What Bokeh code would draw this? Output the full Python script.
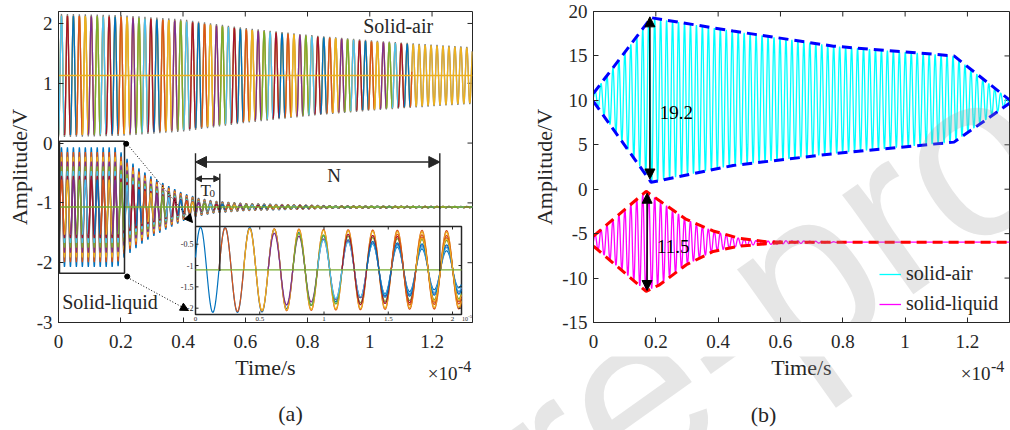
import numpy as np
from bokeh.plotting import figure
from bokeh.models import (Range1d, FixedTicker, Label, Arrow, NormalHead,
                          ColumnDataSource, Legend, LegendItem)
from bokeh.layouts import row, column
from bokeh.embed import file_html
from bokeh.resources import INLINE

FONT = "Liberation Serif"
INK = "#262626"
MAT = ["#0072BD", "#D95319", "#EDB120", "#7E2F8E", "#77AC30", "#4DBEEE", "#A2142F"]

# ------------------------------------------------------------------ data
# time axis in units of 1e-4 s
period = 0.01915            # carrier period (1.915e-6 s)

a_xmax, a_ymin, a_ymax = 1.33, -3.0, 2.2
a_xticks = [0, 0.2, 0.4, 0.6, 0.8, 1.0, 1.2]
a_xlabels = ["0", "0.2", "0.4", "0.6", "0.8", "1", "1.2"]
a_yticks = [-3, -2, -1, 0, 1, 2]
a_ylabels = ["-3", "-2", "-1", "0", "1", "2"]

# (a) solid-air envelope (half amplitude) and centre
a_air_t = [0.0, 0.2, 0.4, 0.6, 0.8, 1.0, 1.2, 1.33]
a_air_amp = [1.0, 0.98, 0.91, 0.77, 0.66, 0.57, 0.50, 0.46]
a_air_mid = 1.13
a_air_colored_until = 1.135

# (a) solid-liquid envelope and centre
a_liq_t = [0.0, 0.19, 0.21, 0.26, 0.30, 0.35, 0.40, 0.45, 0.50, 0.60, 0.75, 0.90, 1.33]
a_liq_amp = [1.0, 1.0, 0.85, 0.64, 0.50, 0.36, 0.23, 0.15, 0.10, 0.06, 0.04, 0.02, 0.01]
a_liq_mid = -1.07
a_liq_scales = [1.0, 0.92, 0.84, 0.76, 0.68, 0.60, 0.52]
a_liq_body_scale = 0.46

# inset (time in 1e-5 s)
inset_xmax, inset_ymin, inset_ymax = 2.07, -2.148, -0.085
inset_period = 0.1915
inset_peak0 = 0.039
inset_mid = -1.1
inset_u = [0.0, 0.5, 1.0, 1.5, 2.07]
inset_amps = [
    [1.0, 1.0, 0.80, 0.55, 0.42],
    [1.0, 0.97, 0.95, 0.93, 0.92],
    [1.0, 0.96, 0.93, 0.90, 0.88],
    [1.0, 0.90, 0.72, 0.60, 0.52],
    [1.0, 0.92, 0.82, 0.74, 0.68],
    [1.0, 0.88, 0.70, 0.58, 0.50],
    [1.0, 0.94, 0.86, 0.79, 0.74],
    [1.0, 0.90, 0.75, 0.64, 0.57],
    [1.0, 0.95, 0.89, 0.84, 0.80],
    [1.0, 0.93, 0.85, 0.78, 0.72],
]
inset_xticks = [0, 0.5, 1, 1.5, 2]
inset_xlabels = ["0", "0.5", "1", "1.5", "2"]
inset_yticks = [-0.5, -1, -1.5, -2]
inset_ylabels = ["-0.5", "-1", "-1.5", "-2"]

# (b)
b_xmax, b_ymin, b_ymax = 1.335, -15.0, 20.0
b_xticks = a_xticks
b_xlabels = a_xlabels
b_yticks = [-15, -10, -5, 0, 5, 10, 15, 20]
b_ylabels = ["-15", "-10", "-5", "0", "5", "10", "15", "20"]

b_air_t = [0.0, 0.185, 0.448, 0.77, 1.157, 1.335]
b_air_up = [10.8, 19.3, 17.8, 16.1, 15.0, 10.05]
b_air_lo = [9.86, 0.78, 2.67, 4.0, 5.3, 9.67]

b_liq_up_t = [0.0, 0.169, 0.212, 0.298, 0.384, 0.47, 0.555, 0.62, 1.335]
b_liq_up = [-5.27, -0.24, -1.3, -3.4, -4.7, -5.54, -5.92, -5.96, -5.96]
b_liq_lo_t = [0.0, 0.169, 0.212, 0.298, 0.384, 0.47, 0.555, 0.62]
b_liq_lo = [-6.4, -11.5, -10.76, -8.5, -7.0, -6.4, -6.14, -5.96]
b_liq_ripple_t = [0.45, 0.55, 0.65, 0.75, 0.80]
b_liq_ripple_amp = [0.30, 0.20, 0.15, 0.08, 0.0]

b_air_arrow = (0.181, 1.15, 19.4)
b_liq_arrow = (0.172, -11.4, -0.45)
b_air_text = (0.213, 8.65, "19.2")
b_liq_text = (0.204, -6.45, "11.5")

# ------------------------------------------------------------------ layout (page pixels)
PAGE_W = 1010
W1 = 498
W2 = PAGE_W - W1
H_TOP = 356                  # page rows 0 .. 356
H_STRIP = 74                 # page rows 356 .. 430
L_X0, L_X1 = 58, 472
R_X0, R_X1 = 593, 1009
FY0, FY1 = 11, 322


def LX(px):
    return (px - L_X0) * a_xmax / (L_X1 - L_X0)


def LY(py):
    return a_ymax - (py - FY0) * (a_ymax - a_ymin) / (FY1 - FY0)


def RX(px):
    return (px - R_X0) * b_xmax / (R_X1 - R_X0)


def RY(py):
    return b_ymax - (py - FY0) * (b_ymax - b_ymin) / (FY1 - FY0)


def style(p, xt, xl, yt, yl, xr, yr, pw):
    p.xgrid.visible = False
    p.ygrid.visible = False
    p.outline_line_color = INK
    p.outline_line_width = 1
    p.background_fill_color = "white"
    p.border_fill_color = "white"
    xa, ya = p.xaxis[0], p.yaxis[0]
    xa.ticker = FixedTicker(ticks=xt)
    xa.major_label_overrides = dict(zip(xt, xl))
    ya.ticker = FixedTicker(ticks=yt)
    ya.major_label_overrides = dict(zip(yt, yl))
    for ax in (xa, ya):
        ax.axis_line_color = INK
        ax.major_tick_line_color = INK
        ax.major_tick_in = 5
        ax.major_tick_out = 0
        ax.minor_tick_line_color = None
        ax.major_label_text_font = FONT
        ax.major_label_text_font_size = "19px"
        ax.major_label_text_color = INK
        ax.axis_label_text_font = FONT
        ax.axis_label_text_font_size = "22px"
        ax.axis_label_text_font_style = "normal"
        ax.axis_label_text_color = INK
    xa.major_label_standoff = 12
    ya.major_label_standoff = 6
    ya.axis_label_standoff = 2
    ya.axis_label = "Amplitude/V"
    # inward ticks on the top and right edges of the box
    dy = 5 * (yr[1] - yr[0]) / (FY1 - FY0)
    dx = 5 * (xr[1] - xr[0]) / pw
    p.segment(x0=xt, y0=[yr[1]] * len(xt), x1=xt, y1=[yr[1] - dy] * len(xt),
              line_color=INK, line_width=1)
    p.segment(x0=[xr[1]] * len(yt), y0=yt, x1=[xr[1] - dx] * len(yt), y1=yt,
              line_color=INK, line_width=1)


def lab(p, x, y, text, size, align="left", baseline="middle", font=FONT, color=INK, **kw):
    p.add_layout(Label(x=x, y=y, text=text, text_font=font, text_font_size=size,
                       text_color=color, text_align=align, text_baseline=baseline, **kw))


def cycles(t_end, mid, kt, ka, scale, offset, n_sub=24):
    xs, ys, cs = [], [], []
    k = 0
    while k * period < t_end - 1e-9:
        tt = np.linspace(k * period, min((k + 1) * period, t_end), n_sub + 1)
        yy = mid - scale * np.interp(tt, kt, ka) * np.cos(2 * np.pi * tt / period)
        xs.append(tt)
        ys.append(yy)
        cs.append(MAT[(offset + k) % 7])
        k += 1
    return ColumnDataSource(dict(xs=xs, ys=ys, c=cs))


# ------------------------------------------------------------------ panel (a)
p1 = figure(width=W1, height=H_TOP, x_range=Range1d(0, a_xmax), y_range=Range1d(a_ymin, a_ymax),
            output_backend="svg", toolbar_location=None,
            min_border_left=L_X0, min_border_right=W1 - L_X1,
            min_border_top=FY0, min_border_bottom=H_TOP - FY1)
style(p1, a_xticks, a_xlabels, a_yticks, a_ylabels, (0, a_xmax), (a_ymin, a_ymax), L_X1 - L_X0)

t = np.arange(0, a_xmax + 1e-9, period / 24)
carrier = np.cos(2 * np.pi * t / period)
A_air = np.interp(t, a_air_t, a_air_amp)
A_liq = np.interp(t, a_liq_t, a_liq_amp)
LW = 1.3

# solid-air group
p1.line(t, a_air_mid - 1.03 * A_air * carrier, line_color="#7F7F7F", line_width=LW)
p1.line(t, a_air_mid - A_air * carrier, line_color=MAT[2], line_width=LW)
p1.multi_line("xs", "ys", line_color="c", line_width=LW,
              source=cycles(a_air_colored_until, a_air_mid, a_air_t, a_air_amp, 1.0, 5))

# solid-liquid group
for k, s in enumerate(a_liq_scales):
    p1.line(t, a_liq_mid - s * A_liq * carrier, line_color=MAT[k], line_width=LW)
p1.multi_line("xs", "ys", line_color="c", line_width=LW,
              source=cycles(a_xmax, a_liq_mid, a_liq_t, a_liq_amp, a_liq_body_scale, 1))

# centre lines
p1.line([0, a_xmax], [a_air_mid, a_air_mid], line_color=MAT[2], line_width=1.5)
p1.line([0, a_xmax], [a_liq_mid, a_liq_mid], line_color=MAT[4], line_width=1.5)

# zoom box and connectors
p1.quad(left=LX(59), right=LX(124), bottom=LY(272.7), top=LY(140.7),
        fill_color=None, line_color=INK, line_width=1.5)
p1.scatter([LX(125.7), LX(126.7)], [LY(143.3), LY(276)], size=5, color="black")
p1.add_layout(Arrow(end=NormalHead(size=8, fill_color="black", line_color="black"),
                    x_start=LX(127), y_start=LY(144), x_end=LX(192), y_end=LY(222),
                    line_color="black", line_width=1, line_dash="1 2"))
p1.add_layout(Arrow(end=NormalHead(size=8, fill_color="black", line_color="black"),
                    x_start=LX(127), y_start=LY(277), x_end=LX(188), y_end=LY(310),
                    line_color="black", line_width=1, line_dash="1 2"))

# inset
IX0, IX1, IY0, IY1 = LX(195), LX(461), LY(314), LY(226)


def IX(u):
    return IX0 + np.asarray(u, dtype=float) / inset_xmax * (IX1 - IX0)


def IY(v):
    return IY0 + (np.asarray(v, dtype=float) - inset_ymin) / (inset_ymax - inset_ymin) * (IY1 - IY0)


p1.quad(left=IX0, right=IX1, bottom=IY0, top=IY1, fill_color="white",
        line_color=INK, line_width=1.5)
u = np.arange(0, inset_xmax + 1e-9, inset_period / 30)
for k, amps in enumerate(inset_amps):
    start = 0.0 if k == 0 else inset_peak0 - inset_period / 4 + k * inset_period
    uu = np.concatenate([[start], u[u > start]])
    vv = inset_mid + np.interp(uu, inset_u, amps) * np.cos(2 * np.pi * (uu - inset_peak0) / inset_period)
    p1.line(IX(uu), IY(vv), line_color=MAT[k % 7], line_width=1.2)
p1.line([IX0, IX1], [float(IY(inset_mid))] * 2, line_color=MAT[4], line_width=1.3)

dxp = 3 * a_xmax / (L_X1 - L_X0)
dyp = 3 * (a_ymax - a_ymin) / (FY1 - FY0)
ixt = IX(inset_xticks)
iyt = IY(inset_yticks)
p1.segment(x0=ixt, y0=[IY0] * 5, x1=ixt, y1=[IY0 + dyp] * 5, line_color=INK, line_width=1)
p1.segment(x0=ixt, y0=[IY1] * 5, x1=ixt, y1=[IY1 - dyp] * 5, line_color=INK, line_width=1)
p1.segment(x0=[IX0] * 4, y0=iyt, x1=[IX0 + dxp] * 4, y1=iyt, line_color=INK, line_width=1)
p1.segment(x0=[IX1] * 4, y0=iyt, x1=[IX1 - dxp] * 4, y1=iyt, line_color=INK, line_width=1)
for xv, tx in zip(ixt, inset_xlabels):
    lab(p1, float(xv), LY(318.3), tx, "7px", align="center")
for yv, tx in zip(iyt, inset_ylabels):
    lab(p1, LX(193), float(yv), tx, "8px", align="right")
lab(p1, LX(461.5), LY(318.5), "10", "6px")
lab(p1, LX(467.5), LY(316), "-5", "5px")

# N and T0 annotation
for (px, y_top, y_bot) in ((195, 152.7, 226), (219.3, 173.3, 270.5), (439.3, 152.7, 270.5)):
    p1.segment(x0=[LX(px)], y0=[LY(y_top)], x1=[LX(px)], y1=[LY(y_bot)],
               line_color=INK, line_width=1.4)
p1.add_layout(Arrow(start=NormalHead(size=11, fill_color=INK, line_color=INK),
                    end=NormalHead(size=11, fill_color=INK, line_color=INK),
                    x_start=LX(195), y_start=LY(161.5), x_end=LX(439.3), y_end=LY(161.5),
                    line_color=INK, line_width=1.5))
p1.add_layout(Arrow(start=NormalHead(size=6, fill_color=INK, line_color=INK),
                    end=NormalHead(size=6, fill_color=INK, line_color=INK),
                    x_start=LX(195), y_start=LY(178.3), x_end=LX(219.3), y_end=LY(178.3),
                    line_color=INK, line_width=1.5))
lab(p1, LX(200), LY(190), "T", "17px")
lab(p1, LX(209), LY(193), "0", "11px")
lab(p1, LX(333.5), LY(175), "N", "19px", align="center")
lab(p1, LX(362.7), LY(25.5), "Solid-air", "20px")
lab(p1, LX(61.7), LY(301), "Solid-liquid", "20px")

# ------------------------------------------------------------------ panel (b)
p2 = figure(width=W2, height=H_TOP, x_range=Range1d(0, b_xmax), y_range=Range1d(b_ymin, b_ymax),
            output_backend="svg", toolbar_location=None,
            min_border_left=R_X0 - W1, min_border_right=PAGE_W - R_X1,
            min_border_top=FY0, min_border_bottom=H_TOP - FY1)
style(p2, b_xticks, b_xlabels, b_yticks, b_ylabels, (0, b_xmax), (b_ymin, b_ymax), R_X1 - R_X0)

tb = np.arange(0, b_xmax + 1e-9, period / 24)
sin_b = np.sin(2 * np.pi * tb / period)
up = np.interp(tb, b_air_t, b_air_up)
lo = np.interp(tb, b_air_t, b_air_lo)
r_air = p2.line(tb, (up + lo) / 2 + (up - lo) / 2 * sin_b, line_color="#00FFFF", line_width=1.3)
up = np.interp(tb, b_liq_up_t, b_liq_up)
lo = np.interp(tb, b_liq_lo_t, b_liq_lo)
amp = np.maximum((up - lo) / 2, np.interp(tb, b_liq_ripple_t, b_liq_ripple_amp))
r_liq = p2.line(tb, (up + lo) / 2 + amp * sin_b, line_color="#FF00FF", line_width=1.3)

p2.line(b_air_t, b_air_up, line_color="#0000FF", line_width=3, line_dash="10 6")
p2.line(b_air_t, b_air_lo, line_color="#0000FF", line_width=3, line_dash="10 6")
p2.line(b_liq_up_t, b_liq_up, line_color="#FF0000", line_width=3, line_dash="10 6")
p2.line(b_liq_lo_t, b_liq_lo, line_color="#FF0000", line_width=3, line_dash="10 6")

for (xa_, y0_, y1_) in (b_air_arrow, b_liq_arrow):
    p2.add_layout(Arrow(start=NormalHead(size=10, fill_color="black", line_color="black"),
                        end=NormalHead(size=10, fill_color="black", line_color="black"),
                        x_start=xa_, y_start=y0_, x_end=xa_, y_end=y1_,
                        line_color="black", line_width=1.5))
for (xt_, yt_, tx) in (b_air_text, b_liq_text):
    lab(p2, xt_, yt_, tx, "19px", color="black")

legend = Legend(items=[LegendItem(label="solid-air", renderers=[r_air]),
                       LegendItem(label="solid-liquid", renderers=[r_liq])],
                location=(286, 7), label_text_font=FONT, label_text_font_size="20px",
                label_text_color=INK, glyph_width=22, glyph_height=20, label_height=20,
                label_standoff=5, spacing=7, padding=0, margin=0,
                border_line_color=None, background_fill_alpha=0)
p2.add_layout(legend)

# journal watermark (part inside panel b); anchor given in page pixels
WM_X, WM_Y = 393, 565
WM = dict(text="Pre-proof", angle=0.618, text_font="Liberation Sans", text_font_size="231px",
          text_color="#9A9A9A", text_alpha=0.25, text_align="left",
          text_baseline="alphabetic", level="overlay")
p2.add_layout(Label(x=RX(WM_X), y=RY(WM_Y), **WM))

# ------------------------------------------------------------------ caption strip
strip = figure(width=PAGE_W, height=H_STRIP, x_range=Range1d(0, PAGE_W),
               y_range=Range1d(H_TOP + H_STRIP, H_TOP),
               output_backend="svg", toolbar_location=None,
               x_axis_location=None, y_axis_location=None,
               min_border_left=0, min_border_right=0, min_border_top=0, min_border_bottom=0)
strip.xgrid.visible = False
strip.ygrid.visible = False
strip.outline_line_color = None
strip.background_fill_color = "white"
strip.border_fill_color = "white"
for cx in ((L_X0 + L_X1) / 2, (R_X0 + R_X1) / 2):
    lab(strip, cx, 366.5, "Time/s", "22px", align="center")
lab(strip, 457, 372.5, "×10", "19px", align="right")
lab(strip, 457.5, 366, "-4", "16px")
lab(strip, 990, 372.5, "×10", "19px", align="right")
lab(strip, 990.5, 366, "-4", "16px")
lab(strip, 290, 412.5, "(a)", "22px", align="center")
lab(strip, 763, 414, "(b)", "22px", align="center")
strip.add_layout(Label(x=WM_X, y=WM_Y, **WM))

layout = column(row(p1, p2), strip)
open("out.html", "w").write(file_html(layout, INLINE))
